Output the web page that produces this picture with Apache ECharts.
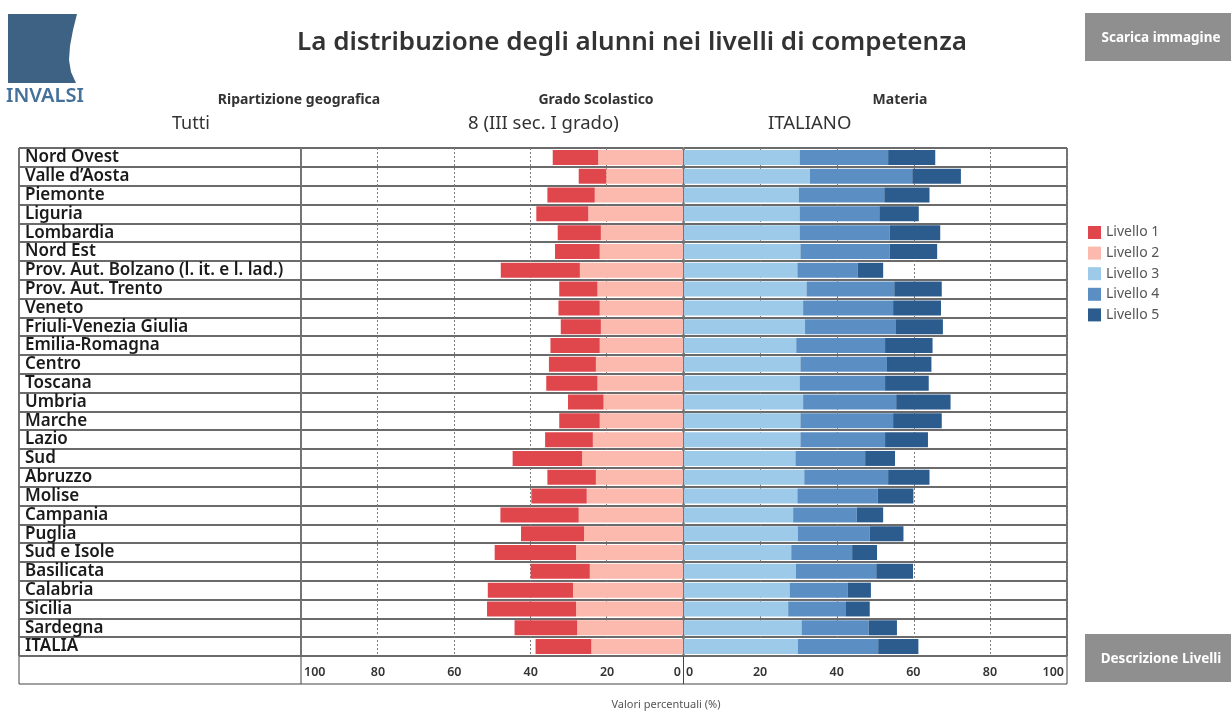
<!DOCTYPE html>
<html>
<head>
<meta charset="utf-8">
<title>La distribuzione degli alunni nei livelli di competenza</title>
<script src="https://cdn.jsdelivr.net/npm/echarts@6/dist/echarts.min.js"></script>
<style>
  html, body { margin: 0; padding: 0; background: #fff; }
  #chart { width: 1231px; height: 711px; }
</style>
</head>
<body>
<div id="chart"></div>
<script>
// righe della tabella, dall'alto verso il basso
const regioni = [
  'Nord Ovest', 'Valle d\u2019Aosta', 'Piemonte', 'Liguria', 'Lombardia', 'Nord Est',
  'Prov. Aut. Bolzano (l. it. e l. lad.)', 'Prov. Aut. Trento', 'Veneto', 'Friuli-Venezia Giulia',
  'Emilia-Romagna', 'Centro', 'Toscana', 'Umbria', 'Marche', 'Lazio', 'Sud', 'Abruzzo',
  'Molise', 'Campania', 'Puglia', 'Sud e Isole', 'Basilicata', 'Calabria', 'Sicilia',
  'Sardegna', 'ITALIA'
]

// percentuali per livello (%)
const livello1 = [11.9, 7.2, 12.4, 13.6, 11.3, 11.7, 20.7, 10.0, 10.8, 10.5, 12.9, 12.3, 13.4, 9.3,
  10.6, 12.5, 18.2, 12.7, 14.5, 20.5, 16.5, 21.3, 15.5, 22.3, 23.3, 16.4, 14.6]
const livello2 = [22.2, 20.1, 23.1, 24.8, 21.5, 21.8, 27.0, 22.4, 21.8, 21.5, 21.8, 22.8, 22.4, 20.8,
  21.8, 23.6, 26.4, 22.8, 25.2, 27.3, 25.9, 28.0, 24.4, 28.8, 28.0, 27.7, 24.0]
const livello3 = [30.2, 32.9, 30.0, 30.2, 30.2, 30.4, 29.6, 32.0, 31.1, 31.6, 29.3, 30.4, 30.2, 31.1,
  30.4, 30.4, 29.1, 31.4, 29.6, 28.5, 29.7, 28.0, 29.2, 27.6, 27.2, 30.7, 29.7]
const livello4 = [23.1, 26.7, 22.3, 20.8, 23.5, 23.3, 15.8, 22.9, 23.5, 23.6, 23.2, 22.6, 22.3, 24.3,
  24.2, 22.1, 18.2, 21.9, 21.0, 16.6, 18.8, 15.9, 21.0, 15.1, 15.1, 17.5, 21.0]
const livello5 = [12.3, 12.7, 11.8, 10.3, 13.2, 12.4, 6.6, 12.4, 12.5, 12.4, 12.4, 11.6, 11.4, 14.2,
  12.7, 11.2, 7.8, 10.8, 9.3, 6.9, 8.8, 6.5, 9.6, 6.1, 6.2, 7.4, 10.5]

const colori = ['#e0474c', '#fcb9ae', '#9ecae9', '#5b8fc4', '#2c5c8e']

const chart = echarts.init(document.getElementById('chart'))

const FONT = '"Noto Sans", "Open Sans", sans-serif'
const rowLine = { show: true, interval: 0, lineStyle: { color: '#6b6b6b', width: 2 } }
const gridLine = { show: true, lineStyle: { color: '#7a7a7a', type: [2, 2], width: 1 } }
const xLabel = { color: '#333', fontSize: 12.5, fontWeight: 600, fontFamily: FONT, margin: 10 }

function barra(nome, dati, idx, stack, asse) {
  return {
    name: nome,
    type: 'bar',
    stack: stack,
    xAxisIndex: asse,
    yAxisIndex: asse,
    barWidth: 15,
    data: dati,
    itemStyle: { color: colori[idx] },
    silent: true
  }
}

function testo(x, y, t, font, align) {
  return {
    type: 'text', x: x, y: y, silent: true,
    style: { text: t, fill: '#333', font: font, align: align || 'left', verticalAlign: 'middle' }
  }
}

chart.setOption({
  backgroundColor: '#fff',
  animation: false,
  textStyle: { fontFamily: FONT },
  title: {
    text: 'La distribuzione degli alunni nei livelli di competenza',
    left: 627,
    top: 25,
    textAlign: 'center',
    textStyle: { fontSize: 26, fontWeight: 600, color: '#333', fontFamily: FONT }
  },
  legend: {
    orient: 'vertical',
    left: 1088,
    top: 225.5,
    padding: 0,
    itemWidth: 13,
    itemHeight: 13,
    itemGap: 6.6,
    icon: 'rect',
    data: ['Livello 1', 'Livello 2', 'Livello 3', 'Livello 4', 'Livello 5'],
    textStyle: { color: '#555', fontSize: 14, lineHeight: 13, fontFamily: FONT },
    selectedMode: false
  },
  grid: [
    { left: 19, top: 148, width: 282, height: 508, show: true, borderColor: '#444', borderWidth: 1 },
    { left: 301, top: 148, width: 382, height: 508, show: true, borderColor: '#444', borderWidth: 1 },
    { left: 684, top: 148, width: 383, height: 508, show: true, borderColor: '#444', borderWidth: 1 }
  ],
  xAxis: [
    { gridIndex: 0, type: 'value', min: 0, max: 100, show: false },
    {
      gridIndex: 1, type: 'value', min: 0, max: 100, interval: 20, inverse: true,
      axisLine: { show: false }, axisTick: { show: false },
      splitLine: gridLine,
      axisLabel: Object.assign({ alignMinLabel: 'right', alignMaxLabel: 'left', padding: [0, 2, 0, 3] }, xLabel)
    },
    {
      gridIndex: 2, type: 'value', min: 0, max: 100, interval: 20,
      axisLine: { show: false }, axisTick: { show: false },
      splitLine: gridLine,
      axisLabel: Object.assign({ alignMinLabel: 'left', alignMaxLabel: 'right', padding: [0, 3, 0, 2] }, xLabel)
    }
  ],
  yAxis: [
    {
      gridIndex: 0, type: 'category', data: regioni, inverse: true,
      axisLine: { show: false }, axisTick: { show: false },
      splitLine: rowLine,
      axisLabel: {
        inside: true, interval: 0, margin: 6, color: '#1a1a1a', fontSize: 17, fontWeight: 600,
        fontFamily: FONT, verticalAlign: 'middle', lineHeight: 18
      }
    },
    {
      gridIndex: 1, type: 'category', data: regioni, inverse: true,
      axisLine: { show: false }, axisTick: { show: false }, axisLabel: { show: false, interval: 0 },
      splitLine: rowLine
    },
    {
      gridIndex: 2, type: 'category', data: regioni, inverse: true,
      axisLine: { show: false }, axisTick: { show: false }, axisLabel: { show: false, interval: 0 },
      splitLine: rowLine
    }
  ],
  series: [
    barra('Livello 2', livello2, 1, 'sx', 1),
    barra('Livello 1', livello1, 0, 'sx', 1),
    barra('Livello 3', livello3, 2, 'dx', 2),
    barra('Livello 4', livello4, 3, 'dx', 2),
    barra('Livello 5', livello5, 4, 'dx', 2)
  ],
  graphic: [
    // logo
    {
      type: 'polygon', silent: true,
      shape: { points: [[8, 14], [77, 14], [73, 30], [70, 46], [69, 60], [71, 72], [76, 83], [8, 83]] },
      style: { fill: '#3e6283' }
    },
    {
      type: 'text', x: 6, y: 96, silent: true,
      style: { text: 'INVALSI', fill: '#44719a', font: '600 20px ' + FONT, verticalAlign: 'middle' }
    },
    // intestazioni filtri
    testo(299, 100, 'Ripartizione geografica', 'bold 14px ' + FONT, 'center'),
    testo(172, 124, 'Tutti', '18px ' + FONT),
    testo(596, 100, 'Grado Scolastico', 'bold 14px ' + FONT, 'center'),
    testo(468, 124, '8 (III sec. I grado)', '18.5px ' + FONT),
    testo(900, 100, 'Materia', 'bold 14px ' + FONT, 'center'),
    testo(768, 124, 'ITALIANO', '18.5px ' + FONT),
    // bottoni
    { type: 'rect', silent: true, shape: { x: 1085, y: 13, width: 146, height: 48 }, style: { fill: '#8f8f8f' } },
    { type: 'text', silent: true, x: 1161, y: 38,
      style: { text: 'Scarica immagine', fill: '#fff', font: 'bold 13.5px ' + FONT, align: 'center', verticalAlign: 'middle' } },
    { type: 'rect', silent: true, shape: { x: 1085, y: 634, width: 146, height: 48 }, style: { fill: '#8f8f8f' } },
    { type: 'text', silent: true, x: 1161, y: 659,
      style: { text: 'Descrizione Livelli', fill: '#fff', font: 'bold 13.5px ' + FONT, align: 'center', verticalAlign: 'middle' } },
    // riga dell'asse sotto la tabella
    { type: 'rect', silent: true, shape: { x: 19, y: 148, width: 1048, height: 536 },
      style: { fill: 'none', stroke: '#444', lineWidth: 1 } },
    { type: 'line', silent: true, shape: { x1: 301, y1: 656, x2: 301, y2: 684 }, style: { stroke: '#444', lineWidth: 1 } },
    { type: 'line', silent: true, shape: { x1: 683.5, y1: 656, x2: 683.5, y2: 684 }, style: { stroke: '#444', lineWidth: 1 } },
    { type: 'text', silent: true, x: 666, y: 705,
      style: { text: 'Valori percentuali (%)', fill: '#555', font: '11px ' + FONT, align: 'center', verticalAlign: 'middle' } }
  ]
})
</script>
</body>
</html>
